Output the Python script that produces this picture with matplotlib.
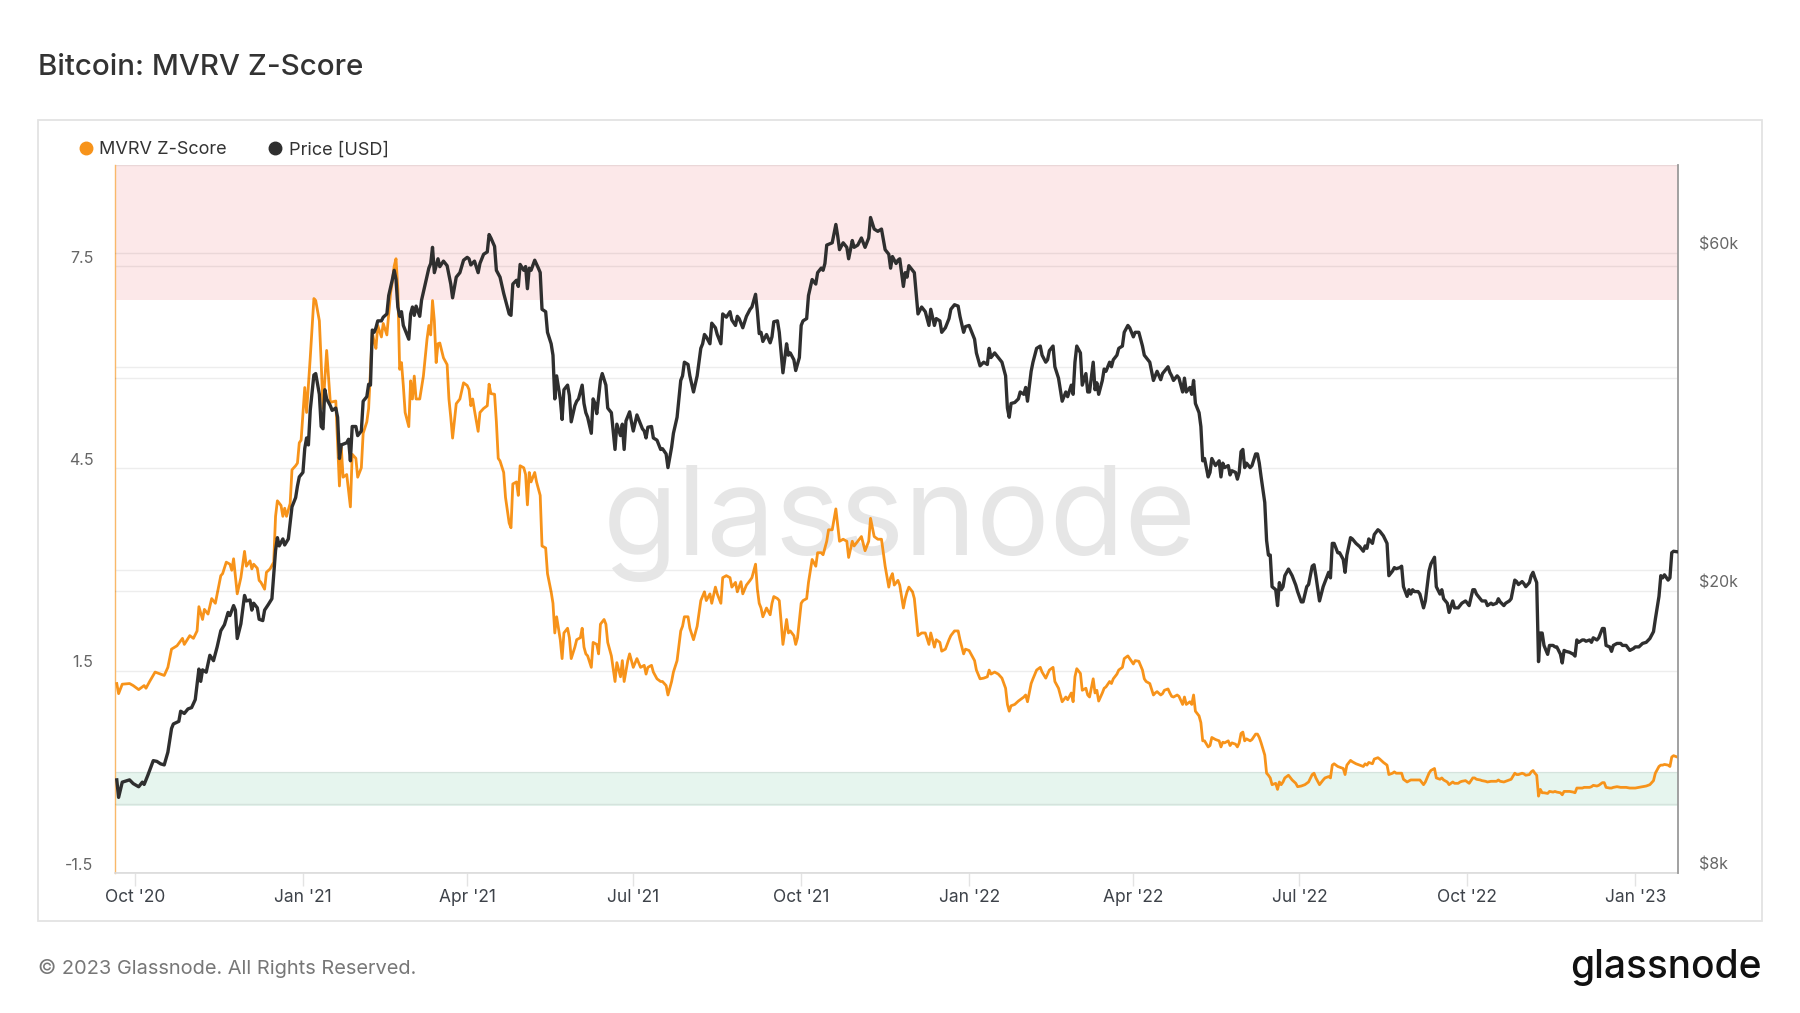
import pandas as pd
import matplotlib
matplotlib.use("Agg")
import matplotlib.pyplot as plt
from matplotlib.lines import Line2D
from matplotlib.patches import Rectangle
from matplotlib.transforms import ScaledTranslation

plt.rcParams["font.family"] = ["Inter", "DejaVu Sans"]

# days counted from 2020-10-01
base_date = pd.Timestamp("2020-10-01")

mvrv_day = [
    -10, -9, -7, -3, -1, 2, 5, 6, 8, 11, 14, 16, 18, 20, 23, 26, 27, 30, 32, 34, 35, 37, 38, 40, 42, 44,
    47, 48, 50, 52, 53, 54, 56, 58, 60, 61, 63, 64, 65, 67, 68, 69, 71, 72, 74, 76, 77, 78, 80, 81, 82,
    83, 85, 86, 88, 89, 90, 91, 93, 94, 95, 96, 98, 99, 101, 102, 103, 105, 106, 107, 110, 111, 112,
    113, 114, 116, 118, 119, 121, 122, 124, 125, 127, 128, 130, 131, 132, 133, 135, 136, 138, 140, 141,
    142, 143, 144, 145, 146, 147, 148, 150, 151, 152, 153, 154, 156, 158, 160, 161, 162, 163, 164, 165,
    166, 167, 169, 171, 172, 173, 174, 176, 178, 180, 182, 183, 184, 185, 186, 188, 189, 191, 193, 194,
    195, 197, 198, 199, 200, 202, 203, 205,
    206, 207, 209, 210, 211, 213, 214, 215, 216, 217, 219, 220, 222, 223, 225, 226, 228, 229, 230, 231,
    233, 234, 235, 237, 238, 239, 241, 242, 244, 245, 246, 247, 248, 250, 251, 253, 254, 255, 257, 258,
    259, 261, 263, 264, 266, 267, 268, 270, 271, 272, 273, 275, 277, 279, 280, 281, 283, 284, 286, 288,
    289, 291, 292, 294, 295, 297, 299, 300, 301, 303, 304, 306, 308, 310, 312, 313, 315, 316, 318, 319,
    321, 322, 324, 326, 327, 329, 330, 332, 333, 335, 337, 338, 340, 341, 342, 343, 344, 346, 348, 349,
    350, 352, 353, 354, 355, 357, 358, 359, 361, 362, 363, 365, 366, 368, 369, 371, 373, 374, 376, 377,
    379, 380, 382, 384, 385, 386, 388, 390, 391, 393, 394, 396, 398, 400, 402, 403, 405, 407, 409, 411,
    413,
    414, 415, 416, 418, 419, 421, 422, 423, 424, 426, 427, 429, 431, 433, 435, 436, 438, 439, 441, 442,
    444, 446, 447, 449, 451, 452, 454, 455, 457, 458, 460, 461, 463, 465, 467, 468, 469, 471, 473, 475,
    477, 478, 479, 480, 482, 484, 485, 487, 488, 489, 491, 492, 494, 496, 497, 499, 500, 501, 503, 504,
    506, 507, 508, 510, 511, 513, 514, 515, 516, 518, 519, 521, 522, 523, 525, 526, 527, 528, 530, 531,
    532, 534, 535, 536, 538, 539, 541, 542, 544, 545, 547, 548, 550, 552, 553, 554, 556, 558, 559, 560,
    562, 563, 564, 566, 567, 568, 569, 571, 572, 574, 575, 576, 578, 579, 580, 581, 583, 584, 585, 586,
    588, 589, 590, 592, 594, 595, 596, 597, 599, 600, 601, 603, 604, 605, 606, 607, 608, 609, 611, 612,
    614, 615, 616, 617, 619, 620, 621, 622, 623, 625, 626, 627, 628, 629, 630, 632,
    634, 636, 637, 639, 641, 643, 645, 646, 647, 649, 651, 652, 654, 655, 656, 657, 659, 660, 662, 663,
    664, 666, 667, 669, 671, 673, 674, 675, 676, 678, 679, 681, 682, 684, 686, 687, 689, 690, 691, 693,
    694, 695, 697, 699, 700, 701, 703, 704, 706, 707, 709, 710, 712, 713, 715, 716, 717, 719, 720, 722,
    723, 725, 726, 727, 729, 730, 731, 733, 734, 735, 737, 738, 740, 741, 743, 744, 746, 747, 748, 750,
    751, 753, 754, 756, 757, 758, 760, 761, 762, 764, 765, 766, 767, 768, 769, 770, 771, 772, 774, 775,
    777, 778, 779, 781, 782, 783, 784, 786, 788, 789, 790, 791, 793, 794, 795, 797, 798, 799, 801, 802,
    804, 805, 806, 808, 809, 810, 812, 814, 815, 817, 819, 821, 822, 824, 826, 828, 830, 832, 833, 835,
    836, 837, 838, 840, 841, 842, 843, 845,
]
mvrv_z = [
    1.31, 1.16, 1.30, 1.31, 1.28, 1.22, 1.28, 1.24, 1.34, 1.48, 1.45, 1.43, 1.55, 1.82, 1.87, 1.98, 1.89,
    2.02, 1.98, 2.09, 2.45, 2.26, 2.41, 2.34, 2.57, 2.50, 2.91, 2.94, 3.11, 3.08, 2.99, 3.16, 2.64, 2.88,
    3.27, 3.05, 3.13, 3.01, 3.08, 3.02, 2.84, 2.81, 2.71, 2.96, 3.01, 3.11, 3.79, 4.02, 3.95, 3.79, 3.91,
    3.79, 3.98, 4.48, 4.54, 4.58, 4.88, 4.92, 5.70, 5.33, 5.73, 6.14, 7.02, 6.99, 6.69, 6.07, 5.39, 6.25,
    5.87, 5.48, 5.50, 4.88, 4.24, 4.82, 4.37, 4.41, 3.93, 4.71, 4.65, 4.37, 4.51, 5.02, 5.19, 5.39, 6.52,
    6.38, 6.28, 6.62, 6.45, 6.65, 6.48, 7.10, 7.27, 7.50, 7.61, 7.16, 5.97, 6.07, 5.73, 5.33, 5.12, 5.80,
    5.53, 5.87, 5.53, 5.53, 5.87, 6.42, 6.62, 6.48, 6.99, 6.69, 6.07, 6.35, 6.36, 6.14, 6.04, 5.53, 5.26,
    4.95, 5.46, 5.53, 5.77, 5.73, 5.67, 5.43, 5.53, 5.36, 5.05, 5.33, 5.39, 5.43, 5.75, 5.61, 5.60, 5.19,
    4.65, 4.61, 4.44, 4.07, 3.69,
    3.62, 4.27, 4.30, 4.10, 4.54, 4.51, 4.41, 3.96, 4.44, 4.30, 4.44, 4.30, 4.10, 3.35, 3.32, 2.94, 2.67,
    2.50, 2.06, 2.30, 1.96, 1.68, 2.06, 2.13, 1.99, 1.68, 1.85, 1.96, 1.99, 2.13, 1.85, 1.75, 1.72, 1.55,
    1.92, 1.89, 1.75, 2.19, 2.26, 2.19, 1.92, 1.72, 1.34, 1.62, 1.41, 1.65, 1.34, 1.65, 1.75, 1.65, 1.55,
    1.68, 1.55, 1.58, 1.45, 1.55, 1.58, 1.48, 1.38, 1.34, 1.34, 1.28, 1.14, 1.34, 1.48, 1.65, 2.09, 2.16,
    2.30, 2.30, 2.13, 1.96, 2.16, 2.54, 2.67, 2.54, 2.64, 2.50, 2.74, 2.64, 2.50, 2.88, 2.91, 2.88, 2.74,
    2.81, 2.67, 2.82, 2.64, 2.77, 2.84, 2.88, 3.08, 2.71, 2.50, 2.43, 2.30, 2.43, 2.33, 2.50, 2.60, 2.57,
    2.54, 2.23, 1.89, 2.26, 2.06, 2.09, 2.02, 1.89, 1.99, 2.50, 2.54, 2.57, 2.81, 3.15, 3.05, 3.25, 3.25,
    3.22, 3.42, 3.59, 3.59, 3.90, 3.66, 3.42, 3.45, 3.42, 3.18, 3.42, 3.35, 3.42, 3.49, 3.28, 3.42, 3.76,
    3.49, 3.45, 3.45, 3.05, 2.74,
    2.88, 2.94, 2.77, 2.84, 2.77, 2.43, 2.57, 2.67, 2.74, 2.67, 2.57, 2.02, 2.06, 2.06, 1.89, 2.06, 1.85,
    1.96, 1.92, 1.79, 1.82, 1.96, 2.02, 2.09, 2.09, 1.96, 1.75, 1.82, 1.80, 1.75, 1.65, 1.51, 1.38, 1.39,
    1.41, 1.51, 1.45, 1.48, 1.45, 1.39, 1.24, 1.00, 0.90, 0.98, 1.00, 1.05, 1.07, 1.11, 1.14, 1.04, 1.31,
    1.38, 1.51, 1.55, 1.48, 1.39, 1.45, 1.51, 1.55, 1.34, 1.24, 1.14, 1.04, 1.11, 1.07, 1.17, 1.04, 1.41,
    1.53, 1.46, 1.21, 1.24, 1.14, 1.11, 1.38, 1.17, 1.21, 1.05, 1.17, 1.24, 1.26, 1.34, 1.31, 1.38, 1.45,
    1.51, 1.55, 1.68, 1.72, 1.68, 1.60, 1.65, 1.64, 1.51, 1.38, 1.34, 1.31, 1.14, 1.17, 1.19, 1.14, 1.16,
    1.21, 1.23, 1.17, 1.12, 1.11, 1.14, 1.12, 1.00, 1.11, 1.00, 1.04, 1.00, 1.14, 0.90, 0.83, 0.73, 0.46,
    0.46, 0.37, 0.39, 0.51, 0.48, 0.46, 0.37, 0.44, 0.43, 0.46, 0.39, 0.43, 0.41, 0.37, 0.43, 0.57, 0.59,
    0.46, 0.49, 0.46, 0.48, 0.56, 0.56, 0.51, 0.43, 0.25, -0.02, -0.05, -0.09, -0.19, -0.17, -0.26, -0.15,
    -0.19, -0.15, -0.09, -0.05,
    -0.12, -0.17, -0.22, -0.21, -0.19, -0.15, -0.04, -0.02, -0.09, -0.19, -0.12, -0.09, -0.07, -0.09,
    0.10, 0.12, 0.08, 0.07, 0.05, -0.04, 0.10, 0.17, 0.15, 0.12, 0.10, 0.08, 0.12, 0.10, 0.14, 0.12, 0.19,
    0.21, 0.19, 0.14, 0.10, -0.04, -0.02, 0.00, -0.02, -0.02, -0.02, -0.11, -0.15, -0.12, -0.12, -0.12,
    -0.12, -0.12, -0.19, -0.15, -0.02, 0.02, 0.05, -0.09, -0.11, -0.09, -0.12, -0.15, -0.19, -0.15,
    -0.17, -0.17, -0.15, -0.14, -0.13, -0.15, -0.17, -0.09, -0.09, -0.11, -0.12, -0.13, -0.14, -0.15,
    -0.14, -0.14, -0.14, -0.12, -0.14, -0.15, -0.14, -0.12, -0.11, -0.02, -0.04, -0.04, -0.02, -0.03,
    -0.05, -0.04, 0.00, 0.02, -0.02, -0.05, -0.36, -0.26, -0.31, -0.31, -0.32, -0.29, -0.30, -0.29,
    -0.30, -0.31, -0.34, -0.29, -0.29, -0.29, -0.30, -0.31, -0.24, -0.24, -0.24, -0.23, -0.23, -0.23,
    -0.22, -0.20, -0.21, -0.20, -0.16, -0.16, -0.23, -0.24, -0.24, -0.23, -0.22, -0.23, -0.23, -0.23,
    -0.24, -0.24, -0.24, -0.23, -0.22, -0.21, -0.19, -0.13, -0.02, 0.08, 0.10, 0.10, 0.11, 0.10, 0.08,
    0.22, 0.24, 0.22,
]

price_day = [
    -10, -9, -7, -3, -1, 2, 4, 5, 7, 10, 12, 14, 16, 18, 20, 21, 24, 25, 27, 29, 31, 33, 35, 36, 37, 39,
    41, 43, 45, 47, 49, 51, 52, 54, 55, 56, 58, 60, 61, 63, 64, 65, 67, 68, 70, 71, 73, 75, 77, 78, 79,
    81, 82, 84, 85, 86, 88, 89, 90, 92, 93, 94, 95, 96, 98, 99, 101, 102, 103, 104, 105, 107, 108, 110,
    111, 112, 113, 116, 117, 118, 119, 121, 122, 124, 125, 127, 128, 129, 130, 131, 132, 133, 135, 136,
    138, 139, 141, 142, 143, 144, 145, 146, 147, 150, 151, 152, 153, 154, 156, 157, 159, 161, 162, 163,
    164, 166, 167, 169, 171, 173, 174, 176, 178, 180, 182, 183, 184, 186, 188, 189, 191, 193, 194, 195,
    197, 198, 200, 202, 205,
    206, 207, 209, 210, 211, 213, 214, 215, 216, 217, 219, 221, 222, 223, 225, 226, 228, 229, 230, 231,
    233, 234, 235, 237, 238, 239, 241, 242, 243, 245, 246, 247, 248, 250, 251, 252, 253, 255, 256, 258,
    259, 261, 263, 264, 266, 267, 268, 269, 271, 272, 273, 275, 277, 278, 279, 280, 281, 283, 284, 286,
    288, 289, 291, 292, 294, 295, 297, 299, 300, 301, 303, 304, 306, 308, 310, 311, 312, 313, 315, 316,
    318, 319, 321, 322, 324, 326, 327, 329, 330, 331, 333, 335, 337, 338, 340, 341, 342, 343, 344, 346,
    348, 349, 350, 352, 353, 354, 355, 357, 358, 359, 361, 362, 364, 365, 366, 368, 369, 371, 373, 374,
    376, 377, 378, 379, 382, 384, 385, 386, 388, 390, 391, 393, 394, 396, 398, 400, 402, 403, 405, 407,
    409, 411, 413,
    414, 415, 417, 418, 419, 421, 422, 423, 424, 426, 427, 429, 431, 433, 435, 436, 438, 439, 441, 442,
    444, 446, 447, 449, 451, 452, 454, 455, 457, 458, 460, 461, 463, 465, 467, 468, 469, 471, 473, 475,
    477, 478, 479, 480, 482, 484, 485, 487, 488, 489, 491, 492, 494, 496, 497, 499, 500, 501, 503, 504,
    506, 507, 508, 510, 511, 513, 514, 515, 516, 518, 519, 521, 522, 523, 525, 526, 527, 528, 530, 531,
    532, 534, 535, 536, 538, 539, 541, 542, 544, 545, 547, 548, 550, 552, 553, 554, 556, 558, 559, 560,
    562, 563, 564, 566, 567, 568, 569, 571, 572, 574, 575, 576, 578, 579, 580, 581, 583, 584, 585, 586,
    588, 589, 590, 592, 594, 595, 596, 597, 599, 600, 601, 603, 604, 605, 606, 607, 608, 609, 611, 612,
    614, 615, 616, 617, 619, 620, 621, 622, 623, 625, 626, 627, 628, 629, 630, 632,
    634, 636, 637, 639, 640, 642, 643, 645, 646, 647, 649, 651, 653, 654, 655, 656, 657, 659, 660, 662,
    663, 664, 666, 667, 669, 671, 673, 674, 675, 676, 678, 679, 681, 682, 684, 686, 687, 689, 690, 691,
    693, 694, 695, 697, 698, 699, 700, 701, 703, 704, 706, 707, 709, 710, 712, 713, 715, 716, 717, 719,
    720, 722, 723, 725, 726, 727, 729, 730, 731, 733, 734, 735, 737, 738, 740, 741, 743, 744, 746, 747,
    748, 750, 751, 753, 754, 756, 757, 758, 760, 761, 762, 764, 765, 766, 767, 768, 769, 770, 771, 772,
    774, 775, 777, 778, 779, 781, 782, 783, 784, 786, 788, 789, 790, 791, 793, 794, 795, 797, 798, 799,
    801, 802, 804, 805, 806, 808, 809, 810, 812, 814, 815, 817, 819, 821, 822, 824, 826, 828, 830, 832,
    833, 835, 836, 837, 838, 840, 841, 842, 843, 845,
]
# thousands of USD
price_k = [
    10.83, 10.23, 10.75, 10.83, 10.70, 10.59, 10.75, 10.67, 10.99, 11.53, 11.50, 11.41, 11.37, 11.85,
    12.80, 12.99, 13.10, 13.54, 13.44, 13.64, 13.70, 14.06, 15.53, 14.92, 15.49, 15.37, 16.24, 15.96,
    16.69, 17.59, 17.94, 18.67, 18.48, 19.09, 18.81, 17.15, 17.99, 19.73, 19.38, 19.44, 18.81, 19.24,
    18.95, 18.26, 18.18, 18.81, 19.15, 19.52, 22.84, 23.81, 23.18, 23.71, 23.25, 23.71, 24.98, 26.32,
    27.12, 28.16, 29.01, 29.44, 31.83, 32.93, 32.19, 36.02, 40.41, 40.60, 37.95, 34.18, 33.93, 38.52,
    37.39, 36.58, 36.02, 36.29, 35.22, 30.80, 32.19, 32.42, 32.79, 30.57, 34.18, 34.18, 33.18, 33.68,
    37.11, 37.66, 39.21, 39.10, 46.77, 46.43, 47.12, 48.19, 48.19, 48.77, 49.29, 52.33, 55.13, 56.80,
    55.13, 50.41, 48.91, 49.65, 47.48, 45.40, 49.29, 50.41, 49.06, 50.56, 48.91, 51.55, 54.32, 57.22,
    58.07, 61.21, 56.37, 58.97, 57.48, 58.53, 57.66, 54.32, 51.94, 55.55, 56.37, 58.70, 59.25, 58.97,
    57.80, 58.53, 56.37, 58.10, 59.85, 60.30, 63.81, 63.10, 61.40, 56.80, 55.55, 52.70, 49.29,
    49.06, 54.32, 55.00, 53.90, 57.90, 56.80, 57.50, 53.50, 57.20, 56.80, 58.70, 57.20, 56.40, 50.04,
    49.65, 46.43, 44.73, 43.10, 37.39, 40.30, 37.39, 34.97, 38.52, 39.10, 37.80, 34.70, 36.58, 37.11,
    37.39, 39.10, 36.84, 35.75, 35.22, 33.43, 37.39, 36.84, 35.64, 39.70, 40.60, 39.10, 36.29, 35.75,
    31.72, 34.44, 33.18, 34.44, 31.72, 34.80, 35.85, 34.70, 33.68, 35.49, 34.44, 33.93, 33.68, 32.93,
    34.10, 34.18, 32.93, 32.69, 31.72, 31.80, 31.26, 29.90, 31.95, 33.43, 35.22, 39.70, 40.30, 42.13,
    41.82, 40.30, 38.24, 40.30, 44.07, 44.73, 46.10, 45.75, 44.73, 47.83, 47.12, 46.10, 44.73, 49.29,
    48.77, 49.65, 48.33, 47.48, 48.91, 48.55, 47.12, 48.91, 50.04, 50.41, 52.54, 49.65, 46.23, 46.43,
    45.07, 46.10, 44.87, 45.75, 48.05, 48.19, 46.43, 43.42, 40.70, 44.73, 43.10, 43.42, 42.46, 41.00,
    42.77, 47.48, 48.19, 48.55, 52.33, 55.13, 54.32, 56.37, 57.22, 56.80, 58.07, 61.66, 62.12, 65.94,
    63.52, 60.75, 62.12, 61.21, 58.97, 62.58, 61.21, 61.66, 63.10, 61.21, 63.10, 67.45, 64.96, 64.48,
    64.96, 60.75, 59.85,
    57.20, 59.40, 58.07, 58.70, 58.97, 53.90, 56.37, 55.55, 57.66, 56.80, 56.37, 49.29, 50.41, 49.65,
    47.48, 50.04, 47.48, 48.55, 48.19, 46.43, 47.12, 48.55, 50.04, 50.79, 50.56, 48.91, 46.43, 47.30,
    47.48, 46.77, 45.40, 43.42, 41.63, 42.13, 41.82, 44.07, 42.77, 43.42, 42.77, 42.13, 40.30, 36.29,
    35.22, 36.84, 36.95, 37.39, 38.24, 37.95, 38.81, 37.11, 40.90, 42.13, 44.07, 44.40, 43.10, 42.13,
    42.46, 43.74, 44.40, 41.51, 39.99, 38.52, 37.11, 38.24, 37.66, 39.10, 37.95, 42.13, 44.40, 43.42,
    39.10, 40.60, 38.24, 38.24, 42.13, 38.52, 39.40, 37.95, 39.70, 41.20, 40.90, 42.13, 41.51, 42.46,
    43.10, 44.07, 44.40, 46.43, 47.48, 47.12, 45.75, 46.43, 46.43, 44.40, 43.10, 42.77, 42.13, 39.70,
    40.30, 40.90, 39.80, 40.60, 40.90, 41.51, 40.75, 40.30, 39.70, 40.30, 40.00, 38.24, 40.00, 38.24,
    38.81, 37.95, 39.70, 36.84, 35.75, 34.18, 30.57, 30.80, 29.01, 29.44, 30.80, 30.10, 30.57, 29.01,
    30.34, 29.90, 30.10, 29.20, 29.60, 29.44, 28.80, 29.44, 31.50, 31.72, 29.90, 30.34, 29.90, 30.10,
    31.26, 31.26, 30.34, 29.01, 26.70, 23.60, 22.50, 22.50, 20.30, 20.10, 19.09, 20.57, 20.10, 20.30,
    21.04, 21.50,
    21.04, 20.40, 19.98, 19.32, 19.32, 20.30, 20.44, 21.70, 21.80, 21.04, 19.38, 20.30, 20.95, 21.27,
    20.89, 23.37, 23.37, 22.67, 22.67, 22.18, 21.27, 22.50, 23.81, 23.71, 23.37, 23.13, 22.78, 23.18,
    23.00, 23.71, 23.37, 24.05, 24.43, 24.32, 23.95, 23.37, 21.04, 21.36, 21.60, 21.52, 21.60, 21.70,
    20.30, 19.67, 20.10, 19.82, 20.10, 19.98, 19.98, 19.82, 18.95, 19.38, 21.36, 21.85, 22.34, 20.30,
    19.82, 20.10, 19.52, 19.24, 18.67, 19.38, 18.95, 18.95, 19.09, 19.24, 19.38, 19.24, 19.09, 20.10,
    20.10, 19.82, 19.52, 19.38, 19.38, 19.09, 19.24, 19.15, 19.24, 19.52, 19.32, 19.09, 19.24, 19.38,
    19.52, 20.74, 20.64, 20.44, 20.64, 20.50, 20.30, 20.57, 21.04, 21.27, 20.89, 20.57, 15.91, 17.46,
    17.46, 16.77, 16.29, 16.77, 16.77, 16.69, 16.69, 16.30, 15.84, 16.50, 16.45, 16.40, 16.30, 16.20,
    17.07, 16.94, 17.07, 17.07, 17.00, 17.07, 16.94, 17.19, 17.07, 17.19, 17.72, 17.72, 16.77, 16.69,
    16.45, 16.77, 16.88, 16.88, 16.77, 16.77, 16.50, 16.60, 16.69, 16.69, 16.88, 16.94, 17.15, 17.54,
    18.26, 19.67, 21.04, 20.89, 21.10, 20.74, 20.89, 22.67, 22.78, 22.74,
]

z_ticks = [-1.5, 0, 1.5, 3, 4.5, 6, 7.5, 9]
z_labels = ["-1.5", "", "1.5", "", "4.5", "", "7.5", ""]
price_ticks = [8000, 10000, 20000, 40000, 60000]
price_labels = ["$8k", "", "$20k", "", "$60k"]
month_ticks = ["2020-10-01", "2021-01-01", "2021-04-01", "2021-07-01", "2021-10-01",
               "2022-01-01", "2022-04-01", "2022-07-01", "2022-10-01", "2023-01-01"]
month_labels = ["Oct '20", "Jan '21", "Apr '21", "Jul '21", "Oct '21",
                "Jan '22", "Apr '22", "Jul '22", "Oct '22", "Jan '23"]

ORANGE = "#f7931a"
DARK = "#2f2f2f"

mvrv_dates = base_date + pd.to_timedelta(mvrv_day, unit="D")
price_dates = base_date + pd.to_timedelta(price_day, unit="D")
price_usd = [p * 1000 for p in price_k]

fig = plt.figure(figsize=(18, 10.13), dpi=100)
fig.patch.set_facecolor("white")

# container frame
fig.add_artist(Rectangle((0.0211, 0.0908), 0.9578, 0.7907, transform=fig.transFigure,
                         facecolor="none", edgecolor="#e3e3e3", lw=1.3))

ax = fig.add_axes([0.0639, 0.1382, 0.8683, 0.6989])
ax2 = ax.twinx()

# zones
ax.axhspan(7, 9, color="#fce8e9", lw=0, zorder=0)
ax.axhspan(-0.5, 0, color="#e6f5ee", lw=0, zorder=0)

ax.plot(mvrv_dates, mvrv_z, color=ORANGE, lw=2.0, zorder=3)
ax2.plot(price_dates, price_usd, color=DARK, lw=2.4, zorder=3)

ax.text(0.5022, 0.449, "glassnode", transform=ax.transAxes, ha="center", va="baseline",
        fontsize=88, color="#e6e6e6", zorder=1)

ax.set_xlim(base_date - pd.Timedelta(days=10.96), base_date + pd.Timedelta(days=845.4))
ax.set_ylim(-1.5, 9)
ax.set_yticks(z_ticks)
ax.set_yticklabels(z_labels)
ax2.set_yscale("log")
ax2.set_ylim(8000, 80000)
ax2.set_yticks(price_ticks)
ax2.set_yticklabels(price_labels)
ax2.minorticks_off()

ax.set_xticks(pd.to_datetime(month_ticks))
ax.set_xticklabels(month_labels)

ax.grid(axis="y", color="black", alpha=0.07, lw=1)
ax2.grid(axis="y", color="black", alpha=0.07, lw=1)
ax.set_axisbelow(True)

for a in (ax, ax2):
    for s in a.spines.values():
        s.set_visible(False)
ax.spines["left"].set_visible(True)
ax.spines["left"].set_color("#f9b86a")
ax.spines["left"].set_linewidth(1.0)
ax.spines["bottom"].set_visible(True)
ax.spines["bottom"].set_color("#dcdcdc")
ax.spines["bottom"].set_linewidth(1.2)
ax2.spines["right"].set_visible(True)
ax2.spines["right"].set_color("#9a9a9a")
ax2.spines["right"].set_linewidth(1.3)

ax.tick_params(axis="y", length=0, pad=15.5, labelsize=11.5, labelcolor="#666666")
ax2.tick_params(axis="y", which="both", length=0, pad=15, labelsize=11.5, labelcolor="#666666")
ax.tick_params(axis="x", length=9.5, width=1, color="#e3e3e3", pad=2, labelsize=12.5,
               labelcolor="#3d4249")

# labels sit a bit above their gridlines
shift = ScaledTranslation(0, 0.095, fig.dpi_scale_trans)
for lbl in ax.get_yticklabels() + ax2.get_yticklabels():
    lbl.set_transform(lbl.get_transform() + shift)

# legend
handles = [Line2D([], [], ls="", marker="o", ms=9, color=ORANGE),
           Line2D([], [], ls="", marker="o", ms=9, color=DARK)]
fig.legend(handles, ["MVRV Z-Score", "Price [USD]"], loc="center left",
           bbox_to_anchor=(0.0445, 0.852), ncol=2, frameon=False, fontsize=13,
           handlelength=0.6, handletextpad=0.45, columnspacing=2.4, borderpad=0,
           borderaxespad=0, labelcolor="#333333")

fig.text(0.0211, 0.933, "Bitcoin: MVRV Z-Score", ha="left", va="center", fontsize=21.3,
         fontweight="medium", color="#333333")
fig.text(0.0211, 0.0444, "\u00a9 2023 Glassnode. All Rights Reserved.", ha="left", va="center",
         fontsize=14.4, color="#777777")
fig.text(0.9789, 0.0345, "glassnode", ha="right", va="baseline", fontsize=28,
         fontweight="medium", color="#111111")

fig.savefig("out.png", dpi=100, facecolor="white")
